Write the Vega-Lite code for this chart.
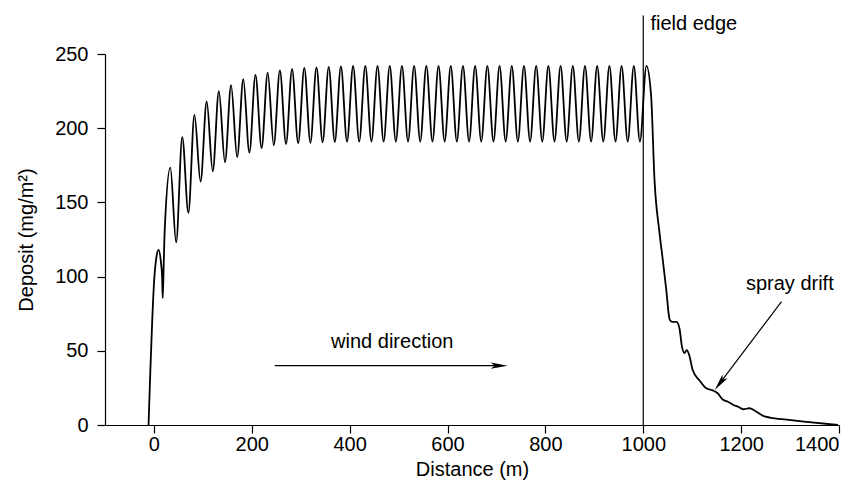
{
  "$schema": "https://vega.github.io/schema/vega-lite/v6.json",
  "width": 734,
  "height": 371,
  "autosize": "none",
  "padding": {"left": 105, "top": 54, "right": 26, "bottom": 66},
  "background": "white",
  "config": {
    "view": {"stroke": null},
    "font": "Liberation Sans",
    "axis": {
      "grid": false,
      "domainColor": "black",
      "domainWidth": 1.2,
      "tickColor": "black",
      "tickWidth": 1.2,
      "tickSize": 8,
      "labelColor": "black",
      "labelFontSize": 20,
      "labelFont": "Liberation Sans",
      "titleColor": "black",
      "titleFontSize": 20,
      "titleFont": "Liberation Sans",
      "titleFontWeight": "normal"
    }
  },
  "datasets": {
    "curve": [
      {"distance": -11, "deposit": 0},
      {"distance": 1, "deposit": 100},
      {"distance": 5, "deposit": 113},
      {"distance": 9.5, "deposit": 118},
      {"distance": 14.5, "deposit": 109},
      {"distance": 16.7, "deposit": 100},
      {"distance": 18, "deposit": 85.5},
      {"distance": 20, "deposit": 109},
      {"distance": 22, "deposit": 131},
      {"distance": 33.5, "deposit": 173.5},
      {"distance": 45.4, "deposit": 123},
      {"distance": 57.9, "deposit": 194},
      {"distance": 70.4, "deposit": 143},
      {"distance": 82.8, "deposit": 209},
      {"distance": 95.3, "deposit": 164},
      {"distance": 107.8, "deposit": 218},
      {"distance": 120.2, "deposit": 171},
      {"distance": 132.7, "deposit": 225},
      {"distance": 145.2, "deposit": 177},
      {"distance": 157.6, "deposit": 229},
      {"distance": 170.1, "deposit": 180.5},
      {"distance": 182.6, "deposit": 233},
      {"distance": 195.1, "deposit": 183.5},
      {"distance": 207.5, "deposit": 236},
      {"distance": 220, "deposit": 186.5},
      {"distance": 232.5, "deposit": 237.5},
      {"distance": 244.9, "deposit": 188.5},
      {"distance": 257.4, "deposit": 239},
      {"distance": 269.9, "deposit": 189.3},
      {"distance": 282.3, "deposit": 240},
      {"distance": 294.8, "deposit": 189.8},
      {"distance": 307.3, "deposit": 240.6},
      {"distance": 319.8, "deposit": 190.2},
      {"distance": 332.2, "deposit": 241},
      {"distance": 344.7, "deposit": 190.5},
      {"distance": 357.2, "deposit": 241.3},
      {"distance": 369.6, "deposit": 190.7},
      {"distance": 382.1, "deposit": 241.7},
      {"distance": 394.6, "deposit": 190.9},
      {"distance": 407, "deposit": 241.9},
      {"distance": 419.5, "deposit": 191},
      {"distance": 432, "deposit": 242},
      {"distance": 444.5, "deposit": 191},
      {"distance": 456.9, "deposit": 242},
      {"distance": 469.4, "deposit": 191},
      {"distance": 481.9, "deposit": 242},
      {"distance": 494.3, "deposit": 191},
      {"distance": 506.8, "deposit": 242},
      {"distance": 519.3, "deposit": 191},
      {"distance": 531.7, "deposit": 242},
      {"distance": 544.2, "deposit": 191},
      {"distance": 556.7, "deposit": 242},
      {"distance": 569.2, "deposit": 191},
      {"distance": 581.6, "deposit": 242},
      {"distance": 594.1, "deposit": 191},
      {"distance": 606.6, "deposit": 242},
      {"distance": 619, "deposit": 191},
      {"distance": 631.5, "deposit": 242},
      {"distance": 644, "deposit": 191},
      {"distance": 656.4, "deposit": 242},
      {"distance": 668.9, "deposit": 191},
      {"distance": 681.4, "deposit": 242},
      {"distance": 693.9, "deposit": 191},
      {"distance": 706.3, "deposit": 242},
      {"distance": 718.8, "deposit": 191},
      {"distance": 731.3, "deposit": 242},
      {"distance": 743.7, "deposit": 191},
      {"distance": 756.2, "deposit": 242},
      {"distance": 768.7, "deposit": 191},
      {"distance": 781.1, "deposit": 242},
      {"distance": 793.6, "deposit": 191},
      {"distance": 806.1, "deposit": 242},
      {"distance": 818.6, "deposit": 191},
      {"distance": 831, "deposit": 242},
      {"distance": 843.5, "deposit": 191},
      {"distance": 856, "deposit": 242},
      {"distance": 868.4, "deposit": 191},
      {"distance": 880.9, "deposit": 242},
      {"distance": 893.4, "deposit": 191},
      {"distance": 905.8, "deposit": 242},
      {"distance": 918.3, "deposit": 191},
      {"distance": 930.8, "deposit": 242},
      {"distance": 943.3, "deposit": 191},
      {"distance": 955.7, "deposit": 242},
      {"distance": 968.2, "deposit": 191},
      {"distance": 980.7, "deposit": 242},
      {"distance": 993.1, "deposit": 191},
      {"distance": 1006.5, "deposit": 242},
      {"distance": 1016, "deposit": 222},
      {"distance": 1023, "deposit": 165},
      {"distance": 1033, "deposit": 130},
      {"distance": 1040, "deposit": 111},
      {"distance": 1047, "deposit": 91},
      {"distance": 1054, "deposit": 71},
      {"distance": 1059, "deposit": 69.5},
      {"distance": 1068, "deposit": 69.5},
      {"distance": 1074, "deposit": 65},
      {"distance": 1079, "deposit": 53},
      {"distance": 1084, "deposit": 48.5},
      {"distance": 1089, "deposit": 50.5},
      {"distance": 1094, "deposit": 47},
      {"distance": 1101, "deposit": 37},
      {"distance": 1115, "deposit": 30},
      {"distance": 1129, "deposit": 24.7},
      {"distance": 1142, "deposit": 23.3},
      {"distance": 1152, "deposit": 21.4},
      {"distance": 1163, "deposit": 17},
      {"distance": 1173, "deposit": 15.7},
      {"distance": 1184, "deposit": 13.5},
      {"distance": 1194, "deposit": 12.3},
      {"distance": 1204, "deposit": 10.6},
      {"distance": 1217, "deposit": 11.3},
      {"distance": 1228, "deposit": 9.6},
      {"distance": 1245, "deposit": 6.1},
      {"distance": 1259, "deposit": 5},
      {"distance": 1293, "deposit": 3.6},
      {"distance": 1334, "deposit": 2.1},
      {"distance": 1398, "deposit": 0}
    ],
    "edge": [{"distance": 1000, "deposit": 0, "top": 276}],
    "edgeLabel": [{"distance": 1014.7, "deposit": 266.5, "label": "field edge"}],
    "notes": [
      {"distance": 487, "deposit": 51.7, "label": "wind direction"},
      {"distance": 1299.5, "deposit": 91, "label": "spray drift"}
    ],
    "arrows": [
      {"distance": 247, "deposit": 40, "distance2": 705.6, "deposit2": 40},
      {"distance": 1282.5, "deposit": 83.1, "distance2": 1156.6, "deposit2": 28.2}
    ],
    "windHead": [{"distance": 705.6, "deposit": 40}],
    "driftHead": [{"distance": 1156.6, "deposit": 28.2}]
  },
  "encoding": {
    "x": {
      "field": "distance",
      "type": "quantitative",
      "scale": {"domain": [-100, 1400], "nice": false, "zero": false},
      "axis": {"title": "Distance (m)", "format": "d", "values": [0, 200, 400, 600, 800, 1000, 1200, 1400], "labelPadding": 1, "titlePadding": 5}
    },
    "y": {
      "field": "deposit",
      "type": "quantitative",
      "scale": {"domain": [0, 250], "nice": false},
      "axis": {"title": "Deposit (mg/m²)", "values": [0, 50, 100, 150, 200, 250], "labelPadding": 9, "titlePadding": 18}
    }
  },
  "layer": [
    {
      "data": {"name": "curve"},
      "mark": {"type": "line", "interpolate": "monotone", "color": "black", "strokeWidth": 1.8}
    },
    {
      "data": {"name": "edge"},
      "mark": {"type": "rule", "color": "black", "strokeWidth": 1.2},
      "encoding": {"y2": {"field": "top"}}
    },
    {
      "data": {"name": "edgeLabel"},
      "mark": {"type": "text", "align": "left", "baseline": "alphabetic", "fontSize": 20, "font": "Liberation Sans", "color": "black"},
      "encoding": {"text": {"field": "label"}}
    },
    {
      "data": {"name": "notes"},
      "mark": {"type": "text", "align": "center", "baseline": "alphabetic", "fontSize": 20, "font": "Liberation Sans", "color": "black"},
      "encoding": {"text": {"field": "label"}}
    },
    {
      "data": {"name": "arrows"},
      "mark": {"type": "rule", "color": "black", "strokeWidth": 1.2},
      "encoding": {"x2": {"field": "distance2"}, "y2": {"field": "deposit2"}}
    },
    {
      "data": {"name": "windHead"},
      "mark": {"type": "point", "shape": "M1,0L-1,-0.38L-0.55,0L-1,0.38Z", "filled": true, "color": "black", "opacity": 1, "size": 289, "angle": 0, "strokeWidth": 0}
    },
    {
      "data": {"name": "driftHead"},
      "mark": {"type": "point", "shape": "M1,0L-1,-0.38L-0.55,0L-1,0.38Z", "filled": true, "color": "black", "opacity": 1, "size": 289, "angle": 127, "strokeWidth": 0}
    }
  ]
}
